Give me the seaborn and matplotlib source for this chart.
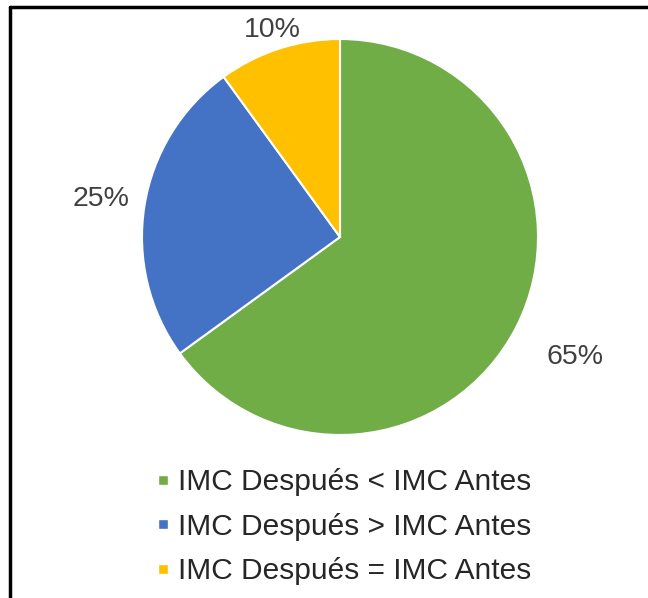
import matplotlib.pyplot as plt
import numpy as np
import seaborn as sns
from matplotlib.lines import Line2D

categories = ["IMC Después < IMC Antes", "IMC Después > IMC Antes", "IMC Después = IMC Antes"]
values = [65, 25, 10]
colors = ["#70AD47", "#4472C4", "#FFC000"]
label_dist = [1.33, 1.22, 1.10]

sns.set_theme(style="white")
plt.rcParams['font.family'] = ['Liberation Sans', 'DejaVu Sans']

fig = plt.figure(figsize=(6.48, 5.98), dpi=100)
ax = fig.add_axes([142 / 648, 163 / 598, 396 / 648, 396 / 598])

wedges, _ = ax.pie(values, colors=colors, startangle=90, counterclock=False,
                   radius=1, wedgeprops=dict(edgecolor="white", linewidth=1.5))

# percentage labels placed outside each wedge
for w, v, d in zip(wedges, values, label_dist):
    ang = np.deg2rad((w.theta1 + w.theta2) / 2)
    ax.text(d * np.cos(ang), d * np.sin(ang), f"{v}%", ha="center", va="center",
            fontsize=20.5, color="#404040")

ax.set_xlim(-1, 1)
ax.set_ylim(-1, 1)
ax.set_aspect("equal")
ax.axis("off")

handles = [Line2D([0], [0], marker="s", color="w", markerfacecolor=c, markersize=7.5, linestyle="")
           for c in colors]
fig.legend(handles, categories, loc="upper center", bbox_to_anchor=(0.53, 0.252),
           frameon=False, fontsize=21.5, handlelength=0.5, handletextpad=0.25,
           labelspacing=0.55, labelcolor="#262626", borderpad=0.2)

# partial black frame (left and top edges)
fig.add_artist(Line2D([9.5 / 648, 9.5 / 648], [0, 1 - 7 / 598], color="black", linewidth=2.5,
                      transform=fig.transFigure))
fig.add_artist(Line2D([9.5 / 648, 1], [1 - 7 / 598, 1 - 7 / 598], color="black", linewidth=2.5,
                      transform=fig.transFigure))

fig.savefig("out.png", dpi=100)
